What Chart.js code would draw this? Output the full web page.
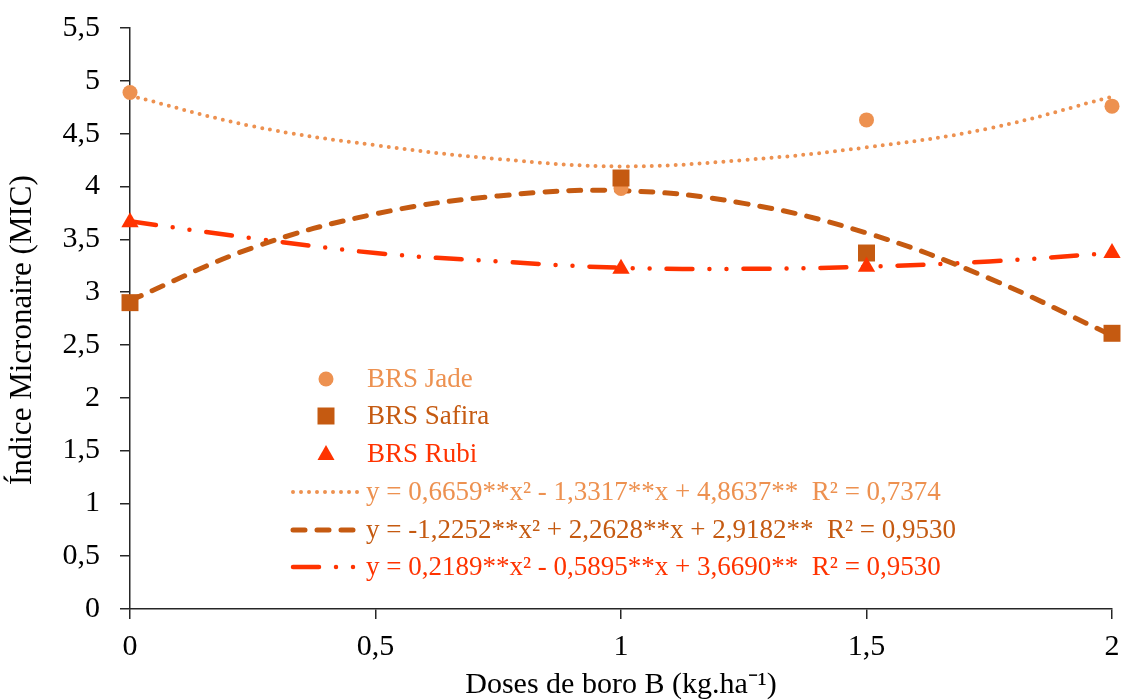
<!DOCTYPE html>
<html>
<head>
<meta charset="utf-8">
<script src="https://cdn.jsdelivr.net/npm/chart.js@4/dist/chart.umd.min.js"></script>
<style>
  html, body { margin: 0; padding: 0; background: #fff; }
  #wrap { width: 1124px; height: 700px; }
</style>
</head>
<body>
<div id="wrap"><canvas id="myChart" width="1124" height="700"></canvas></div>
<script>
// observed means per cultivar
var doses = [0, 1, 1.5, 2];
var jadeMeans = [4.89, 3.98, 4.63, 4.76];
var safiraMeans = [2.90, 4.08, 3.37, 2.61];
var rubiMeans = [3.66, 3.22, 3.24, 3.37];

// fitted curves
var curveDoses = [0, 0.25, 0.5, 0.75, 1, 1.25, 1.5, 1.75, 2];
var jadeCurve = [4.86, 4.57, 4.39, 4.26, 4.19, 4.25, 4.37, 4.55, 4.85];
var safiraCurve = [2.92, 3.42, 3.74, 3.91, 3.96, 3.84, 3.56, 3.13, 2.59];
var rubiCurve = [3.67, 3.51, 3.37, 3.29, 3.23, 3.22, 3.24, 3.29, 3.37];

var seriesNames = ['BRS Jade', 'BRS Safira', 'BRS Rubi'];
var equations = [
  'y = 0,6659**x\u00b2 - 1,3317**x + 4,8637**  R\u00b2 = 0,7374',
  'y = -1,2252**x\u00b2 + 2,2628**x + 2,9182**  R\u00b2 = 0,9530',
  'y = 0,2189**x\u00b2 - 0,5895**x + 3,6690**  R\u00b2 = 0,9530',
];
var xTicks = [0, 0.5, 1, 1.5, 2];

var colors = ['#ED9150', '#C55A11', '#FF3300'];
var pointStyles = ['circle', 'rect', 'triangle'];
var pointRadii = [7.5, 12, 10];
var dashes = [[0, 8], [12, 12], [26, 17, 0, 17, 0, 17]];
var dashWidths = [4, 5, 4.5];
var serif = "'Liberation Serif', 'Times New Roman', serif";

function pairs(xs, ys) {
  return xs.map(function (x, i) { return { x: x, y: ys[i] }; });
}

function fmt(v) {
  return String(v).replace('.', ',');
}

var means = [jadeMeans, safiraMeans, rubiMeans];
var curves = [jadeCurve, safiraCurve, rubiCurve];
var datasets = [];

curves.forEach(function (c, i) {
  datasets.push({
    label: equations[i],
    data: pairs(curveDoses, c),
    showLine: true,
    borderColor: colors[i],
    borderWidth: dashWidths[i],
    borderDash: dashes[i],
    borderCapStyle: 'round',
    pointRadius: 0,
    tension: 0.4,
    fill: false,
    clip: false,
    order: 10 + i,
  });
});

means.forEach(function (m, i) {
  datasets.push({
    label: seriesNames[i],
    data: pairs(doses, m),
    showLine: false,
    pointStyle: pointStyles[i],
    pointRadius: pointRadii[i],
    pointBackgroundColor: colors[i],
    pointBorderColor: colors[i],
    pointBorderWidth: 0,
    clip: false,
    order: 3 - i,
  });
});

// legend drawn inside the plot, like the original
var legendBox = {
  id: 'legendBox',
  afterDraw: function (chart) {
    var ctx = chart.ctx;
    var rows = [379, 416, 454, 492, 530, 567];
    ctx.save();
    ctx.font = '27px ' + serif;
    ctx.textBaseline = 'middle';
    ctx.textAlign = 'left';
    for (var i = 0; i < 3; i++) {
      var y = rows[i];
      var mx = 326;
      ctx.fillStyle = colors[i];
      ctx.beginPath();
      if (pointStyles[i] === 'circle') {
        ctx.arc(mx, y, 7.5, 0, Math.PI * 2);
      } else if (pointStyles[i] === 'rect') {
        ctx.rect(mx - 8.5, y - 8.5, 17, 17);
      } else {
        ctx.moveTo(mx, y - 9);
        ctx.lineTo(mx + 8.5, y + 6);
        ctx.lineTo(mx - 8.5, y + 6);
        ctx.closePath();
      }
      ctx.fill();
      ctx.fillText(seriesNames[i], 367, y + 1);
    }
    for (var j = 0; j < 3; j++) {
      var ly = rows[3 + j];
      ctx.strokeStyle = colors[j];
      ctx.fillStyle = colors[j];
      ctx.lineWidth = dashWidths[j];
      ctx.lineCap = 'round';
      ctx.setLineDash(dashes[j]);
      ctx.beginPath();
      ctx.moveTo(293, ly);
      ctx.lineTo(360, ly);
      ctx.stroke();
      ctx.setLineDash([]);
      ctx.fillText(equations[j], 366, ly + 1);
    }
    ctx.restore();
  },
};

new Chart('myChart', {
  type: 'scatter',
  data: { datasets: datasets },
  options: {
    responsive: false,
    animation: false,
    layout: { padding: { top: 28, right: 11, left: 0, bottom: 0 } },
    plugins: {
      legend: { display: false },
      tooltip: { enabled: false },
    },
    scales: {
      x: {
        type: 'linear',
        min: 0,
        max: 2,
        afterBuildTicks: function (scale) {
          scale.ticks = xTicks.map(function (v) { return { value: v }; });
        },
        afterFit: function (scale) {
          scale.height = 91;
          scale.paddingLeft = 0;
          scale.paddingRight = 0;
        },
        grid: { drawOnChartArea: false, drawTicks: true, tickLength: 10, color: '#262626', lineWidth: 1.5 },
        border: { display: true, color: '#262626', width: 1.5 },
        ticks: {
          color: '#000',
          padding: 10,
          font: { family: serif, size: 30 },
          callback: function (v) { return fmt(v); },
        },
        title: {
          display: true,
          text: 'Doses de boro B (kg.ha\u207b\u00b9)',
          color: '#000',
          font: { family: serif, size: 30 },
          padding: { top: 0, bottom: -3 },
        },
      },
      y: {
        min: 0,
        max: 5.5,
        afterFit: function (scale) {
          scale.width = 130;
          scale.paddingTop = 0;
          scale.paddingBottom = 0;
        },
        grid: { drawOnChartArea: false, drawTicks: true, tickLength: 10, color: '#262626', lineWidth: 1.5 },
        border: { display: true, color: '#262626', width: 1.5 },
        ticks: {
          stepSize: 0.5,
          color: '#000',
          padding: 20,
          font: { family: serif, size: 30 },
          callback: function (v) { return fmt(v); },
        },
        title: {
          display: true,
          text: '\u00cdndice Micronaire (MIC)   ',
          color: '#000',
          font: { family: serif, size: 31 },
          padding: { top: 4, bottom: 0 },
        },
      },
    },
  },
  plugins: [legendBox],
});
</script>
</body>
</html>
